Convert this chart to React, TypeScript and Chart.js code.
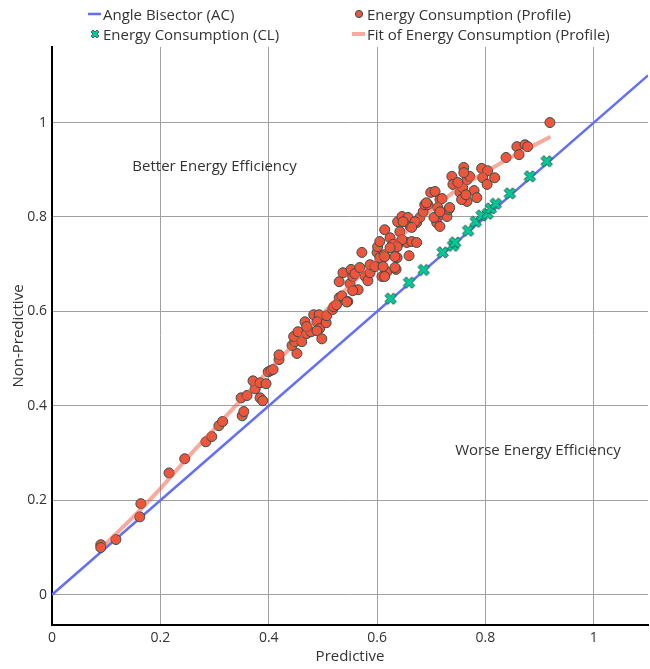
import React, { useEffect, useRef } from "react";
import { Chart, registerables } from "chart.js";
Chart.register(...registerables);

const bisectorX = [0, 1.1];
const bisectorY = [0, 1.1];

const profileX = [
  0.090, 0.090, 0.118, 0.162, 0.164, 0.216, 0.245, 0.284, 0.295, 0.308, 0.315, 0.351, 0.354, 0.349, 0.360,
  0.375, 0.384, 0.389, 0.371, 0.384, 0.395, 0.399, 0.404, 0.408, 0.419, 0.419, 0.452, 0.443, 0.448, 0.446,
  0.454, 0.461, 0.470, 0.478, 0.467, 0.470, 0.483, 0.493, 0.489, 0.494, 0.489, 0.498, 0.506, 0.507, 0.518,
  0.520, 0.530, 0.535, 0.546, 0.530, 0.537, 0.550, 0.555, 0.565, 0.555, 0.552, 0.559, 0.568, 0.578, 0.583,
  0.587, 0.572, 0.587, 0.596, 0.600, 0.605, 0.609, 0.618, 0.635, 0.613, 0.637, 0.642, 0.655, 0.659, 0.601,
  0.614, 0.605, 0.624, 0.629, 0.638, 0.646, 0.657, 0.661, 0.664, 0.673, 0.673, 0.679, 0.685, 0.688, 0.694,
  0.699, 0.707, 0.716, 0.712, 0.716, 0.729, 0.732, 0.710, 0.716, 0.705, 0.738, 0.740, 0.753, 0.758, 0.766,
  0.771, 0.779, 0.766, 0.756, 0.749, 0.784, 0.919, 0.858, 0.873, 0.878, 0.862, 0.838, 0.793, 0.804, 0.795,
  0.817, 0.803, 0.760, 0.760, 0.764, 0.734, 0.720, 0.691, 0.716, 0.648, 0.670, 0.664, 0.642, 0.646, 0.637,
  0.624, 0.633, 0.614, 0.611, 0.633, 0.614, 0.525, 0.544,
];
const profileY = [
  0.106, 0.100, 0.117, 0.165, 0.193, 0.258, 0.288, 0.324, 0.335, 0.358, 0.367, 0.379, 0.388, 0.417, 0.422,
  0.436, 0.417, 0.411, 0.453, 0.449, 0.447, 0.472, 0.475, 0.477, 0.498, 0.508, 0.511, 0.528, 0.536, 0.547,
  0.557, 0.536, 0.553, 0.557, 0.578, 0.568, 0.593, 0.593, 0.578, 0.564, 0.559, 0.542, 0.576, 0.591, 0.604,
  0.610, 0.629, 0.633, 0.621, 0.663, 0.682, 0.659, 0.674, 0.646, 0.644, 0.689, 0.680, 0.693, 0.674, 0.665,
  0.682, 0.725, 0.699, 0.695, 0.725, 0.714, 0.674, 0.684, 0.689, 0.720, 0.714, 0.746, 0.746, 0.718, 0.737,
  0.773, 0.748, 0.756, 0.742, 0.790, 0.801, 0.799, 0.780, 0.748, 0.746, 0.788, 0.799, 0.811, 0.826, 0.826,
  0.852, 0.854, 0.837, 0.820, 0.805, 0.801, 0.816, 0.788, 0.780, 0.799, 0.886, 0.869, 0.852, 0.862, 0.879,
  0.886, 0.856, 0.833, 0.837, 0.873, 0.841, 1.000, 0.949, 0.953, 0.949, 0.932, 0.926, 0.903, 0.898, 0.883,
  0.883, 0.869, 0.905, 0.894, 0.847, 0.820, 0.839, 0.830, 0.811, 0.790, 0.790, 0.778, 0.769, 0.752, 0.737,
  0.735, 0.716, 0.716, 0.695, 0.693, 0.674, 0.614, 0.620,
];

const clX = [0.625, 0.659, 0.686, 0.721, 0.740, 0.744, 0.768, 0.782, 0.793, 0.804, 0.810, 0.819, 0.845, 0.882, 0.913];
const clY = [0.627, 0.661, 0.688, 0.725, 0.739, 0.746, 0.771, 0.790, 0.803, 0.807, 0.818, 0.828, 0.850, 0.886, 0.918];

const fitX = [0.09, 0.15, 0.2, 0.25, 0.3, 0.35, 0.4, 0.45, 0.5, 0.55, 0.6, 0.65, 0.7, 0.75, 0.8, 0.85, 0.9, 0.92];
const fitY = [0.098, 0.165, 0.225, 0.29, 0.352, 0.414, 0.475, 0.535, 0.595, 0.655, 0.71, 0.765, 0.815, 0.86, 0.895, 0.928, 0.958, 0.97];

const annotationTexts = ["Better Energy Efficiency", "Worse Energy Efficiency"];
const annotationX = [0.3, 0.897];
const annotationY = [0.907, 0.305];

const legendLabels = [
  "Angle Bisector (AC)",
  "Energy Consumption (Profile)",
  "Energy Consumption (CL)",
  "Fit of Energy Consumption (Profile)",
];

const BLUE = "#636EFA";
const RED = "#EF553B";
const GREEN = "#00CC96";
const OUTLINE = "#2F4F4F";
const FIT = "rgba(239,85,59,0.5)";
const TEXT = "#333";
const FONT = '"Open Sans", sans-serif';

function xPolygon(t: number): [number, number][] {
  return [
    [0, -t], [t, -2 * t], [2 * t, -t], [t, 0], [2 * t, t], [t, 2 * t],
    [0, t], [-t, 2 * t], [-2 * t, t], [-t, 0], [-2 * t, -t], [-t, -2 * t],
  ];
}

function makeXMarker(): HTMLCanvasElement {
  const c = document.createElement("canvas");
  c.width = 15;
  c.height = 15;
  const ctx = c.getContext("2d")!;
  ctx.translate(7.5, 7.5);
  ctx.beginPath();
  xPolygon(2.83).forEach(([a, b], i) => (i === 0 ? ctx.moveTo(a, b) : ctx.lineTo(a, b)));
  ctx.closePath();
  ctx.fillStyle = GREEN;
  ctx.fill();
  ctx.lineWidth = 1;
  ctx.strokeStyle = OUTLINE;
  ctx.stroke();
  return c;
}

const annotationPlugin = {
  id: "annotations",
  afterDatasetsDraw(chart: any) {
    const { ctx, scales } = chart;
    ctx.save();
    ctx.font = `15px ${FONT}`;
    ctx.fillStyle = TEXT;
    ctx.textAlign = "center";
    ctx.textBaseline = "middle";
    annotationTexts.forEach((t, i) => {
      ctx.fillText(t, scales.x.getPixelForValue(annotationX[i]), scales.y.getPixelForValue(annotationY[i]));
    });
    ctx.restore();
  },
};

const toPts = (xs: number[], ys: number[]) => xs.map((x, i) => ({ x, y: ys[i] }));

function LegendSymbol({ kind }: { kind: number }) {
  const style: React.CSSProperties = { position: "absolute", left: 0, top: 0 };
  if (kind === 0 || kind === 3) {
    return (
      <svg width={14} height={20} style={style}>
        <line x1={0} x2={13} y1={10} y2={10} stroke={kind === 0 ? BLUE : FIT} strokeWidth={kind === 0 ? 2.5 : 4} />
      </svg>
    );
  }
  if (kind === 1) {
    return (
      <svg width={14} height={20} style={style}>
        <circle cx={7} cy={10} r={3.6} fill={RED} stroke={OUTLINE} strokeWidth={1} />
      </svg>
    );
  }
  const pts = xPolygon(2.0).map(([a, b]) => `${7 + a},${10 + b}`).join(" ");
  return (
    <svg width={14} height={20} style={style}>
      <polygon points={pts} fill={GREEN} stroke={OUTLINE} strokeWidth={0.8} />
    </svg>
  );
}

export default function App() {
  const ref = useRef<HTMLCanvasElement>(null);

  useEffect(() => {
    if (!ref.current) return;
    Chart.defaults.font.family = FONT;
    const marker = makeXMarker();
    const chart = new Chart(ref.current, {
      type: "scatter",
      data: {
        datasets: [
          {
            label: legendLabels[0],
            data: toPts(bisectorX, bisectorY),
            showLine: true,
            borderColor: BLUE,
            borderWidth: 2.5,
            pointRadius: 0,
            order: 4,
          },
          {
            label: legendLabels[1],
            data: toPts(profileX, profileY),
            backgroundColor: RED,
            borderColor: OUTLINE,
            borderWidth: 1,
            pointRadius: 5,
            order: 3,
          },
          {
            label: legendLabels[2],
            data: toPts(clX, clY),
            pointStyle: marker as any,
            pointRadius: 6,
            order: 2,
          },
          {
            label: legendLabels[3],
            data: toPts(fitX, fitY),
            showLine: true,
            borderColor: FIT,
            borderWidth: 4,
            pointRadius: 0,
            tension: 0.3,
            order: 1,
          },
        ],
      },
      options: {
        animation: false,
        responsive: false,
        devicePixelRatio: 1,
        layout: { autoPadding: false, padding: { top: 47, right: 2, left: 0, bottom: 0 } },
        plugins: { legend: { display: false }, tooltip: { enabled: false } },
        scales: {
          x: {
            type: "linear",
            min: 0,
            max: 1.1,
            afterFit: (s: any) => {
              s.height = 44;
            },
            ticks: {
              stepSize: 0.2,
              includeBounds: false,
              padding: 5,
              color: TEXT,
              font: { size: 14 },
              maxRotation: 0,
              callback: (v: any) => String(+Number(v).toFixed(2)),
            },
            grid: { color: "#a0a0a0", lineWidth: 1, drawTicks: false },
            border: { display: true, color: "#000", width: 2 },
            title: { display: true, text: "Predictive", color: TEXT, font: { size: 15 }, padding: { top: 0, bottom: 3 } },
          },
          y: {
            type: "linear",
            min: -0.064,
            max: 1.16,
            afterFit: (s: any) => {
              s.width = 52;
            },
            ticks: {
              stepSize: 0.2,
              includeBounds: false,
              padding: 5,
              color: TEXT,
              font: { size: 14 },
              callback: (v: any) => String(+Number(v).toFixed(2)),
            },
            grid: { color: "#a0a0a0", lineWidth: 1, drawTicks: false },
            border: { display: true, color: "#000", width: 2 },
            title: { display: true, text: "Non-Predictive", color: TEXT, font: { size: 15 }, padding: { top: 10, bottom: 0 } },
          },
        },
      },
      plugins: [annotationPlugin],
    });
    return () => chart.destroy();
  }, []);

  const legendPos = [
    { left: 88, top: 4, kind: 0 },
    { left: 352, top: 4, kind: 1 },
    { left: 88, top: 24, kind: 2 },
    { left: 352, top: 24, kind: 3 },
  ];

  return (
    <div style={{ position: "absolute", left: 0, top: 0, width: 650, height: 669, background: "#fff" }}>
      <canvas ref={ref} width={650} height={669} style={{ width: 650, height: 669, display: "block" }} />
      {legendPos.map((p, i) => (
        <div
          key={i}
          style={{
            position: "absolute",
            left: p.left,
            top: p.top,
            height: 20,
            paddingLeft: 15,
            font: `15px ${FONT}`,
            lineHeight: "20px",
            color: TEXT,
            whiteSpace: "nowrap",
          }}
        >
          <LegendSymbol kind={p.kind} />
          {legendLabels[i]}
        </div>
      ))}
    </div>
  );
}
